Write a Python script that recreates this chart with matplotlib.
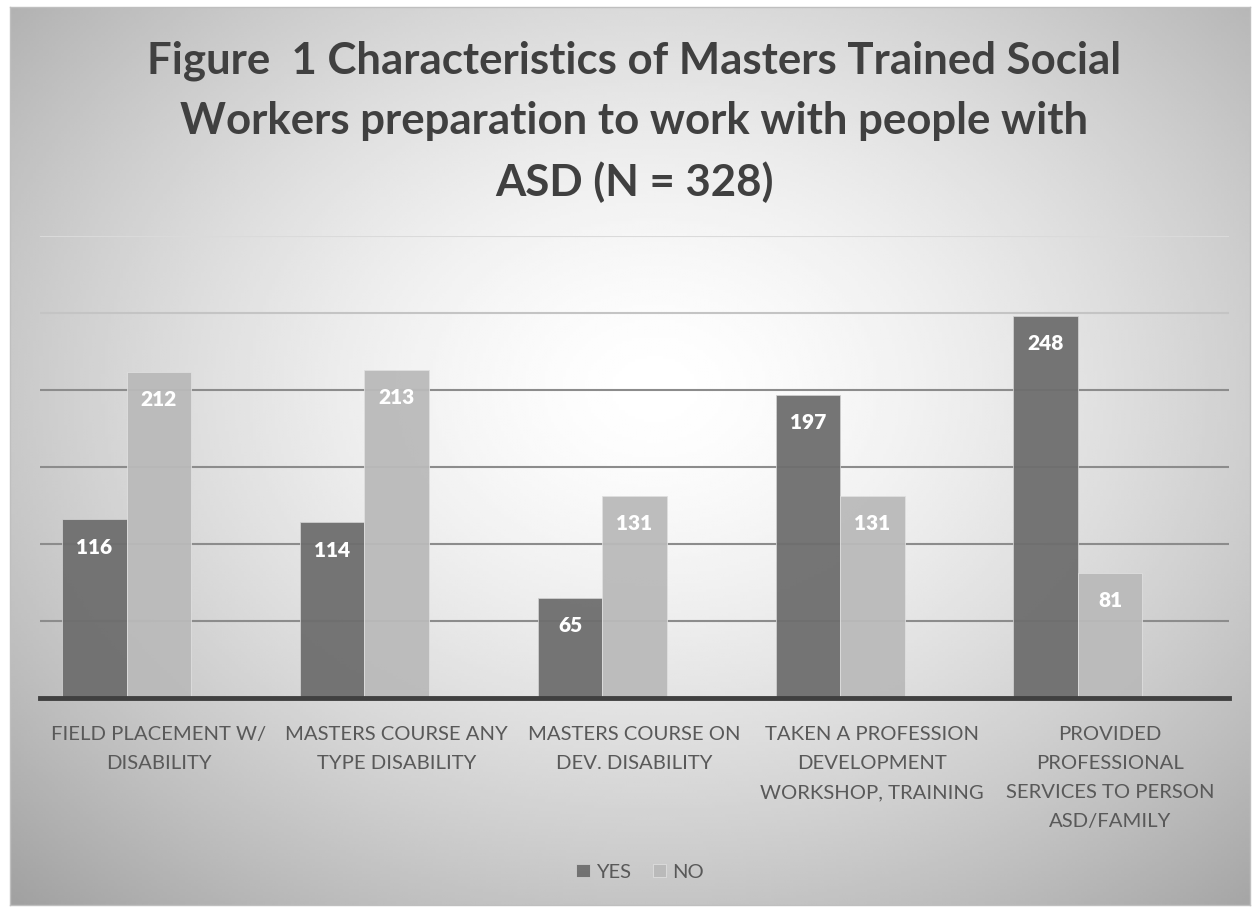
import numpy as np
import matplotlib.pyplot as plt

categories = ["FIELD PLACEMENT W/\nDISABILITY",
              "MASTERS COURSE ANY\nTYPE DISABILITY",
              "MASTERS COURSE ON\nDEV. DISABILITY",
              "TAKEN A PROFESSION\nDEVELOPMENT\nWORKSHOP, TRAINING",
              "PROVIDED\nPROFESSIONAL\nSERVICES TO PERSON\nASD/FAMILY"]
yes_vals = [116, 114, 65, 197, 248]
no_vals = [212, 213, 131, 131, 81]
title = "Figure  1 Characteristics of Masters Trained Social\nWorkers preparation to work with people with\nASD (N = 328)"

plt.rcParams['font.family'] = ['Lato', 'DejaVu Sans']

W, H = 1254, 907
fig = plt.figure(figsize=(W / 100, H / 100), dpi=100)
fig.patch.set_facecolor("white")

# radial gradient background with a thin border
bg = fig.add_axes([10 / W, 2 / H, 1240 / W, 898 / H])
xx, yy = np.meshgrid(np.linspace(-1, 1, 400), np.linspace(-1, 1, 300))
r = np.sqrt((xx - 0.04) ** 2 + ((yy + 0.15) / 1.05) ** 2)
grad = 1.0 - 0.2 * np.clip(r, 0, 1.5) ** 1.5
bg.imshow(grad, cmap="gray", vmin=0, vmax=1, aspect="auto", extent=[0, 1, 0, 1],
          interpolation="bilinear", origin="upper")
bg.set_xticks([]); bg.set_yticks([])
for s in bg.spines.values():
    s.set_color("#bfbfbf"); s.set_linewidth(1)

ax = fig.add_axes([40 / W, 1 - 698 / H, 1189 / W, 462 / H])
ax.patch.set_alpha(0)
x = np.arange(len(categories))
width = 0.271
b1 = ax.bar(x - width, yes_vals, width, color="#6e6e6e", edgecolor="#d0d0d0", linewidth=0.6, alpha=0.95, zorder=2, label="YES")
b2 = ax.bar(x, no_vals, width, color="#bababa", edgecolor="#e0e0e0", linewidth=0.6, alpha=0.95, zorder=2, label="NO")

for bars in (b1, b2):
    for b in bars:
        ax.text(b.get_x() + b.get_width() / 2, b.get_height() - 18, str(int(b.get_height())),
                ha="center", va="center", color="white", fontsize=15, fontweight="heavy", zorder=4)

ax.set_xlim(-0.5, len(categories) - 0.5)
ax.set_ylim(0, 300)
ax.set_yticks([50, 100, 150, 200, 250, 300])
ax.yaxis.grid(True, color="#8c8c8c", linewidth=1.5, zorder=3)
glines = ax.get_ygridlines()
glines[-1].set_color("#dadada")
glines[-2].set_color("#c4c4c4")
ax.tick_params(axis="y", left=False, labelleft=False)
ax.tick_params(axis="x", bottom=False, pad=17)
ax.set_xticks(x)
ax.set_xticklabels(categories, fontsize=14.6, color="#595959", linespacing=1.84, va="top")
for s in ["top", "right", "left"]:
    ax.spines[s].set_visible(False)
ax.spines["bottom"].set_color("#404040")
ax.spines["bottom"].set_linewidth(3.5)
ax.spines["bottom"].set_zorder(5)

fig.text(634 / W, 1 - 122 / H, title, ha="center", va="center", fontsize=31.5, fontweight="bold",
         color="#404040", linespacing=1.6)

leg = fig.legend(handles=[b1, b2], labels=["YES", "NO"], loc="center", bbox_to_anchor=(640 / W, 1 - 872 / H),
                 ncol=2, frameon=False, fontsize=14.5, handlelength=0.65, handleheight=0.65,
                 handletextpad=0.3, columnspacing=1.1, labelcolor="#595959")

fig.savefig("out.png", dpi=100)
